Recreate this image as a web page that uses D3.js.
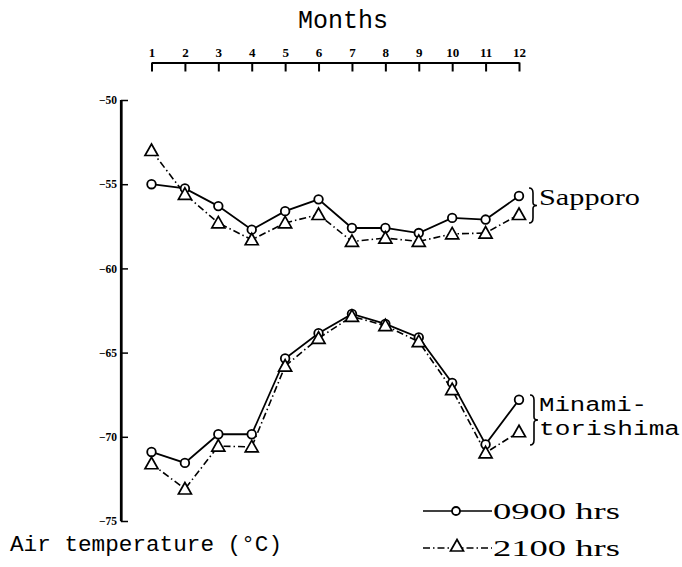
<!DOCTYPE html>
<html>
<head>
<meta charset="utf-8">
<script src="https://cdn.jsdelivr.net/npm/d3@7"></script>
<style>
  body { margin: 0; background: #fff; }
  svg { display: block; }
  .mono { font-family: "Liberation Mono", "Courier New", monospace; }
  .serif { font-family: "Liberation Serif", "Times New Roman", serif; }
</style>
</head>
<body>
<div id="result"></div>
<script>
// months on top axis
var months = [1,2,3,4,5,6,7,8,9,10,11,12];
var tempTicks = [-50,-55,-60,-65,-70,-75];

// Sapporo
var sapporo0900 = [-55.0,-55.25,-56.3,-57.7,-56.6,-55.9,-57.6,-57.6,-57.9,-57.0,-57.1,-55.7];
var sapporo2100 = [-53.0,-55.6,-57.3,-58.3,-57.3,-56.8,-58.4,-58.2,-58.4,-57.95,-57.9,-56.8];

// Minamitorishima
var minami0900 = [-70.9,-71.55,-69.85,-69.85,-65.35,-63.85,-62.7,-63.3,-64.1,-66.8,-70.45,-67.8];
var minami2100 = [-71.6,-73.1,-70.55,-70.6,-65.8,-64.15,-62.85,-63.4,-64.35,-67.2,-70.95,-69.7];

(function(){
	'use strict';

	var width = 682, height = 567;

	var svg = d3.select("#result")
		.append("svg")
		.attr("width", width)
		.attr("height", height);

	var x = d3.scaleLinear().domain([1,12]).range([151.5,519]);
	var y = d3.scaleLinear().domain([-50,-75]).range([100,521]);

	// top axis (months)
	var xAxis = d3.axisTop(x)
		.tickValues(months)
		.tickFormat(d3.format("d"))
		.tickSizeInner(-9)
		.tickSizeOuter(0)
		.tickPadding(6);

	var gx = svg.append("g")
		.attr("transform","translate(0,62.5)")
		.call(xAxis);
	gx.select(".domain").attr("stroke","#000").attr("stroke-width",2);
	gx.selectAll(".tick line").attr("stroke","#000").attr("stroke-width",2);
	gx.selectAll(".tick text")
		.attr("class","serif")
		.attr("font-size",13)
		.attr("font-weight","bold")
		.attr("fill","#000");

	svg.append("text")
		.attr("class","mono")
		.attr("x",343).attr("y",28)
		.attr("text-anchor","middle")
		.attr("font-size",25)
		.text("Months");

	// left axis (temperature)
	var yAxis = d3.axisLeft(y)
		.tickValues(tempTicks)
		.tickFormat(d3.format("d"))
		.tickSizeInner(-7)
		.tickSizeOuter(0)
		.tickPadding(4);

	var gy = svg.append("g")
		.attr("transform","translate(121,0)")
		.call(yAxis);
	gy.select(".domain").attr("stroke","#000").attr("stroke-width",2.2);
	gy.selectAll(".tick line").attr("stroke","#000").attr("stroke-width",1.5);
	gy.selectAll(".tick text")
		.attr("class","serif")
		.attr("font-size",11.5)
		.attr("font-weight","bold")
		.attr("fill","#000");

	// vertical axis line drawn explicitly from the scale
	svg.append("line")
		.attr("x1",121).attr("x2",121)
		.attr("y1",y(-50)).attr("y2",y(-75))
		.attr("stroke","#000")
		.attr("stroke-width",2.2);

	svg.append("text")
		.attr("class","mono")
		.attr("x",10).attr("y",551)
		.attr("font-size",22)
		.attr("textLength",272)
		.attr("lengthAdjust","spacingAndGlyphs")
		.text("Air temperature (\u00B0C)");

	// series
	var series = [
		{values: sapporo0900, marker: "circle"},
		{values: sapporo2100, marker: "triangle"},
		{values: minami0900, marker: "circle"},
		{values: minami2100, marker: "triangle"}
	];

	var line = d3.line()
		.x(function(d,i){return x(months[i]);})
		.y(function(d){return y(d);});

	var triPath = "M0,-6.5L6.5,5L-6.5,5Z";

	series.forEach(function(s){
		svg.append("path")
			.datum(s.values)
			.attr("d",line)
			.attr("fill","none")
			.attr("stroke","#000")
			.attr("stroke-width",s.marker == "circle" ? 1.8 : 1.6)
			.attr("stroke-dasharray",s.marker == "circle" ? null : "7,3,1.5,3");
	});

	series.forEach(function(s){
		var g = svg.append("g");
		if (s.marker == "circle"){
			g.selectAll("circle")
				.data(s.values)
				.enter()
				.append("circle")
				.attr("cx",function(d,i){return x(months[i]);})
				.attr("cy",function(d){return y(d);})
				.attr("r",4.3)
				.attr("fill","#fff")
				.attr("stroke","#000")
				.attr("stroke-width",1.8);
		} else {
			g.selectAll("path")
				.data(s.values)
				.enter()
				.append("path")
				.attr("d",triPath)
				.attr("transform",function(d,i){return "translate("+x(months[i])+","+y(d)+")";})
				.attr("fill","#fff")
				.attr("stroke","#000")
				.attr("stroke-width",1.7);
		}
	});

	// braces + station labels
	function brace(xb, y0, y1){
		var m = (y0+y1)/2;
		return "M"+xb+","+y0+" Q"+(xb+4)+","+y0+" "+(xb+4)+","+(y0+5)+
			" L"+(xb+4)+","+(m-3)+" Q"+(xb+4)+","+m+" "+(xb+8)+","+m+
			" Q"+(xb+4)+","+m+" "+(xb+4)+","+(m+3)+
			" L"+(xb+4)+","+(y1-5)+" Q"+(xb+4)+","+y1+" "+xb+","+y1;
	}

	svg.append("path")
		.attr("d",brace(529,188,223))
		.attr("fill","none").attr("stroke","#000").attr("stroke-width",1.6);

	svg.append("text")
		.attr("class","serif")
		.attr("x",539).attr("y",205)
		.attr("font-size",23)
		.attr("textLength",101)
		.attr("lengthAdjust","spacingAndGlyphs")
		.text("Sapporo");

	svg.append("path")
		.attr("d",brace(530,395,445))
		.attr("fill","none").attr("stroke","#000").attr("stroke-width",1.6);

	svg.append("text")
		.attr("class","mono")
		.attr("x",539).attr("y",411)
		.attr("font-size",20)
		.attr("textLength",108)
		.attr("lengthAdjust","spacingAndGlyphs")
		.text("Minami-");

	svg.append("text")
		.attr("class","mono")
		.attr("x",539).attr("y",435)
		.attr("font-size",20)
		.attr("textLength",141)
		.attr("lengthAdjust","spacingAndGlyphs")
		.text("torishima");

	// legend
	var legend = [
		{label:"0900 hrs", marker:"circle", y:511},
		{label:"2100 hrs", marker:"triangle", y:548}
	];

	legend.forEach(function(l){
		svg.append("line")
			.attr("x1",423).attr("x2",492)
			.attr("y1",l.y).attr("y2",l.y)
			.attr("stroke","#000")
			.attr("stroke-width",1.6)
			.attr("stroke-dasharray",l.marker == "circle" ? null : "7,3,1.5,3");
		if (l.marker == "circle"){
			svg.append("circle")
				.attr("cx",456).attr("cy",l.y).attr("r",4)
				.attr("fill","#fff").attr("stroke","#000").attr("stroke-width",1.8);
		} else {
			svg.append("path")
				.attr("d",triPath)
				.attr("transform","translate(457,"+(l.y-2)+")")
				.attr("fill","#fff").attr("stroke","#000").attr("stroke-width",1.7);
		}
		svg.append("text")
			.attr("class","serif")
			.attr("x",493).attr("y",l.y+8)
			.attr("font-size",23)
			.attr("textLength",127)
			.attr("lengthAdjust","spacingAndGlyphs")
			.text(l.label);
	});

})();
</script>
</body>
</html>
